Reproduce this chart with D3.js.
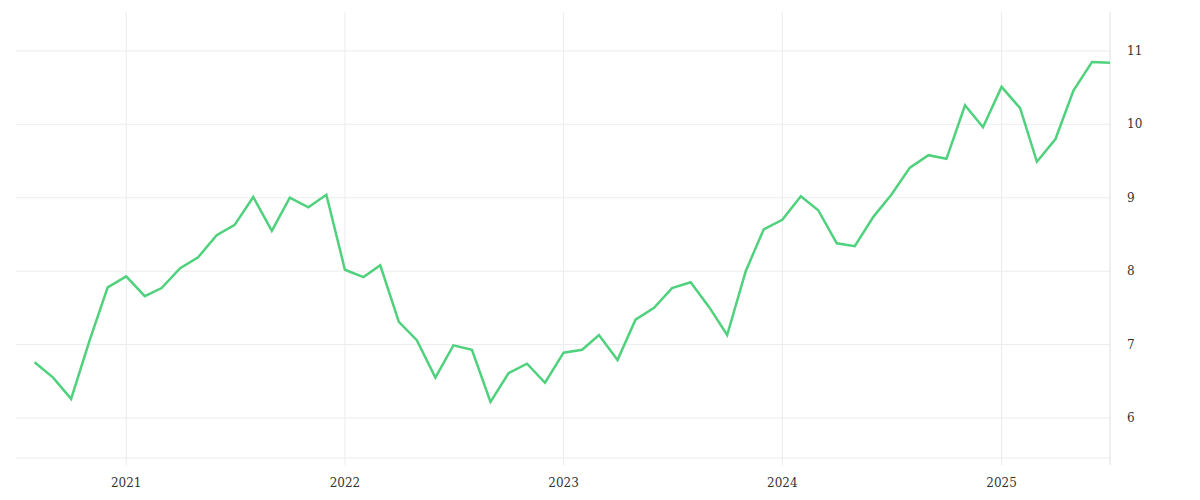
<!DOCTYPE html>
<html><head><meta charset="utf-8">
<script src="https://cdn.jsdelivr.net/npm/d3@7"></script>
<style>body{margin:0;background:#fff}text{font-family:"DejaVu Serif",serif;font-size:12px;fill:#333}</style>
</head><body><svg id="c" width="1200" height="500"></svg>
<script>
const startMonth = "2020-08";
const values = [6.76,6.55,6.26,7.06,7.78,7.93,7.66,7.77,8.04,8.19,8.49,8.63,9.01,8.55,9.00,8.87,9.04,8.02,7.92,8.08,7.31,7.06,6.55,6.99,6.93,6.22,6.61,6.74,6.48,6.89,6.93,7.13,6.79,7.34,7.50,7.77,7.85,7.51,7.13,8.00,8.57,8.70,9.02,8.83,8.38,8.34,8.74,9.04,9.41,9.58,9.53,10.26,9.96,10.51,10.22,9.49,9.80,10.46,10.85,10.84];
const yTicks = [6,7,8,9,10,11];
const xTickYears = [2021,2022,2023,2024,2025];
const t0 = d3.timeParse("%Y-%m")(startMonth);
const data = values.map((v,i)=>({d:d3.timeMonth.offset(t0,i),v}));
const svg = d3.select("#c");
const L=16,R=1110,T=12,B=465;
const x = d3.scaleTime().domain([d3.timeMonth.offset(t0,-0.66),d3.timeMonth.offset(t0,59.33)]).range([L,R]);
const y = d3.scaleLinear().domain([5.36,11.53]).range([B,T]);
const g = svg.append("g");
xTickYears.forEach(yr=>{const xx=x(new Date(yr,0,1));
 g.append("line").attr("x1",xx).attr("x2",xx).attr("y1",T).attr("y2",B).attr("stroke","#ececec");
 svg.append("text").attr("x",xx).attr("y",487).attr("text-anchor","middle").text(yr);});
yTicks.forEach(t=>{g.append("line").attr("x1",L).attr("x2",R).attr("y1",y(t)).attr("y2",y(t)).attr("stroke","#ececec");
 svg.append("text").attr("x",1127).attr("y",y(t)+4).text(t);});
g.append("line").attr("x1",L).attr("x2",R).attr("y1",B-7).attr("y2",B-7).attr("stroke","#ececec");
g.append("line").attr("x1",R).attr("x2",R).attr("y1",T).attr("y2",B).attr("stroke","#e0e0e0");
svg.append("path").datum(data).attr("fill","none").attr("stroke","#4fd17d").attr("stroke-width",2.5)
 .attr("d",d3.line().x(d=>x(d.d)).y(d=>y(d.v)));
</script></body></html>
